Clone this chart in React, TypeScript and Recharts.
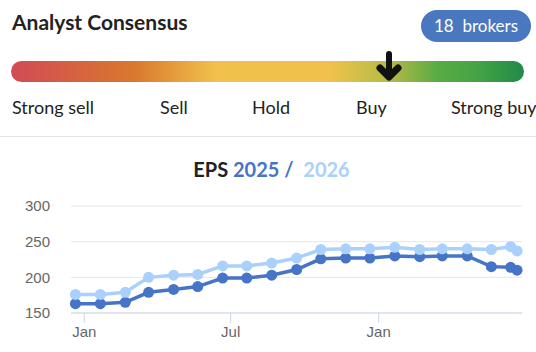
import React from 'react';
import { LineChart, Line, XAxis, YAxis, CartesianGrid } from 'recharts';

const dates = [
  '2023-12-21', '2024-01-21', '2024-02-21', '2024-03-21', '2024-04-21', '2024-05-21',
  '2024-06-21', '2024-07-21', '2024-08-21', '2024-09-21', '2024-10-21', '2024-11-21',
  '2024-12-21', '2025-01-21', '2025-02-21', '2025-03-21', '2025-04-21', '2025-05-21',
  '2025-06-14', '2025-06-22',
];
const eps2025 = [163, 163, 165, 179, 183, 187, 199, 199, 203, 211, 226, 227, 227, 230, 229, 230, 230, 215, 214, 210];
const eps2026 = [176, 176, 179, 200, 203, 204, 216, 216, 220, 227, 239, 240, 240, 242, 239, 240, 240, 239, 243, 237];
const yTicks = [150, 200, 250, 300];
const xTicks = ['2024-01-01', '2024-07-01', '2025-01-01'];
const monthNames = ['Jan', 'Feb', 'Mar', 'Apr', 'May', 'Jun', 'Jul', 'Aug', 'Sep', 'Oct', 'Nov', 'Dec'];
const ratingLabels = ['Strong sell', 'Sell', 'Hold', 'Buy', 'Strong buy'];
const brokerCount = 18;

const toTime = (d: string) => new Date(d + 'T00:00:00Z').getTime();

const data = dates.map((d, i) => ({ t: toTime(d), a: eps2025[i], b: eps2026[i] }));

const DARK = '#4674c6';
const LIGHT = '#a9d1fb';
const labelLeft = [12, 160, 252, 356, 451];

export default function App() {
  return (
    <div
      style={{
        position: 'absolute',
        left: 0,
        top: 0,
        width: 536,
        height: 352,
        background: '#fff',
        overflow: 'hidden',
        fontFamily: 'Lato, sans-serif',
      }}
    >
      <div style={{ position: 'absolute', left: 12, top: 9, fontSize: 21, fontWeight: 700, color: '#222' }}>
        Analyst Consensus
      </div>
      <div
        style={{
          position: 'absolute',
          left: 421,
          top: 10,
          width: 110,
          height: 32,
          borderRadius: 16,
          background: '#4a78c0',
          color: '#fff',
          fontSize: 17,
          lineHeight: '32px',
          textAlign: 'center',
        }}
      >
        {brokerCount}&nbsp; brokers
      </div>
      <div
        style={{
          position: 'absolute',
          left: 11,
          top: 61,
          width: 513,
          height: 21,
          borderRadius: 11,
          background:
            'linear-gradient(to right, #d24a55 0%, #d9782e 24%, #f0c24b 40%, #f0c24b 62%, #b3ba46 74%, #5aab44 83%, #44a345 91%, #228a48 100%)',
        }}
      />
      <svg style={{ position: 'absolute', left: 0, top: 0 }} width={536} height={120}>
        <line x1={389} y1={54} x2={389} y2={76} stroke="#111" strokeWidth={6} strokeLinecap="round" />
        <polyline points="380,68 389,77 398,68" fill="none" stroke="#111" strokeWidth={7} strokeLinecap="round" strokeLinejoin="round" />
      </svg>
      {ratingLabels.map((l, i) => (
        <div key={l} style={{ position: 'absolute', left: labelLeft[i], top: 96, fontSize: 18, color: '#222', whiteSpace: 'nowrap' }}>
          {l}
        </div>
      ))}
      <div style={{ position: 'absolute', left: 0, top: 136, width: 536, height: 1, background: '#e3e3e3' }} />
      <div
        style={{
          position: 'absolute',
          left: 7,
          top: 157,
          width: 529,
          textAlign: 'center',
          fontSize: 20,
          fontWeight: 700,
          color: '#222',
          whiteSpace: 'pre',
        }}
      >
        EPS <span style={{ color: DARK }}>2025 /</span>{'  '}<span style={{ color: LIGHT }}>2026</span>
      </div>
      <div style={{ position: 'absolute', left: 0, top: 150 }}>
        <LineChart width={536} height={200} data={data} margin={{ top: 56, right: 14, bottom: 0, left: 0 }}>
          <CartesianGrid vertical={false} stroke="#e6e6e6" />
          <XAxis
            dataKey="t"
            type="number"
            scale="time"
            domain={[Date.UTC(2023, 11, 15, 12), Date.UTC(2025, 5, 28, 3)]}
            ticks={xTicks.map(toTime)}
            tickFormatter={(v: number) => monthNames[new Date(v).getUTCMonth()]}
            height={37}
            tickSize={10}
            tickMargin={3}
            stroke="#ccd6eb"
            tick={{ fill: '#666', fontSize: 15, fontFamily: '"Liberation Sans", Arial, sans-serif' }}
          />
          <YAxis
            domain={[150, 300]}
            ticks={yTicks}
            width={71}
            axisLine={false}
            tickLine={false}
            tickSize={0}
            tickMargin={21}
            tick={{ fill: '#666', fontSize: 15, fontFamily: '"Liberation Sans", Arial, sans-serif' }}
          />
          <Line
            dataKey="a"
            stroke={DARK}
            strokeWidth={3.5}
            dot={{ r: 5.5, fill: DARK, stroke: 'none' }}
            isAnimationActive={false}
          />
          <Line
            dataKey="b"
            stroke={LIGHT}
            strokeWidth={3.5}
            dot={{ r: 5.5, fill: LIGHT, stroke: 'none' }}
            isAnimationActive={false}
          />
        </LineChart>
      </div>
    </div>
  );
}
